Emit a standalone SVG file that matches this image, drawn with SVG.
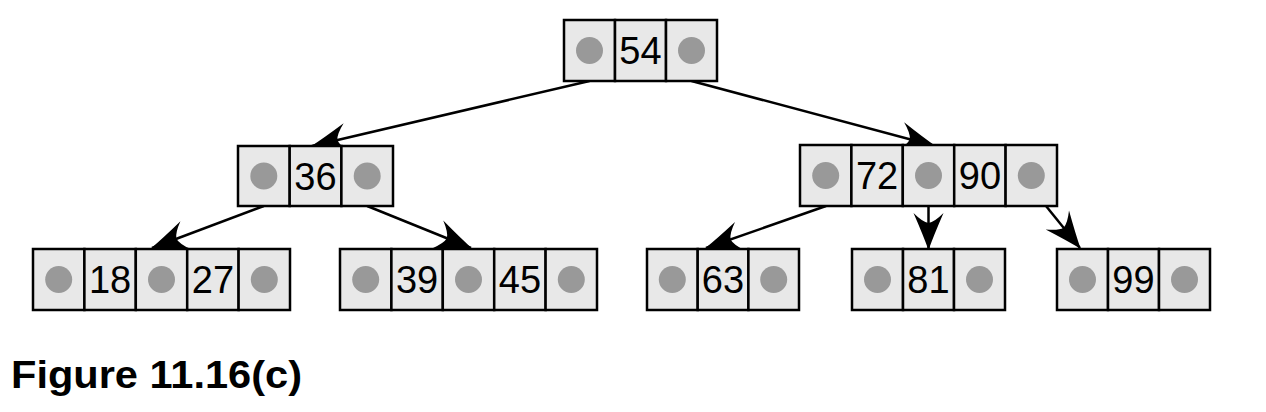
<svg xmlns="http://www.w3.org/2000/svg" width="1266" height="412" viewBox="0 0 1266 412">
<style>
.cell{fill:#e8e8e8;stroke:#000;stroke-width:2.5}
.ptr{fill:#999}
.key{font-family:"Liberation Sans",Arial,sans-serif;font-size:38px;fill:#000;text-anchor:middle}
.edge{stroke:#000;stroke-width:2.5;fill:none;marker-end:url(#ah)}
.cap{font-family:"Liberation Sans",Arial,sans-serif;font-weight:bold;font-size:39px;fill:#000}
</style>
<defs>
<marker id="ah" markerUnits="userSpaceOnUse" orient="auto" refX="0" refY="0" markerWidth="90" markerHeight="90" viewBox="-45 -45 90 90" overflow="visible">
<path d="M1,0 Q-13,-5 -36,-15 Q-27,-6 -26,0 Q-27,6 -36,15 Q-13,5 1,0 Z" fill="#000"/>
</marker>
</defs>
<g id="connectors">
<line class="edge" x1="589.5" y1="81" x2="312" y2="146"/>
<line class="edge" x1="691.5" y1="81" x2="935" y2="146"/>
<line class="edge" x1="263.8" y1="206" x2="152" y2="248"/>
<line class="edge" x1="367.2" y1="206" x2="471" y2="248"/>
<line class="edge" x1="826" y1="206" x2="706" y2="248"/>
<line class="edge" x1="928.5" y1="206" x2="928.5" y2="249"/>
<line class="edge" x1="1046" y1="206" x2="1080" y2="248"/>
</g>
<g id="node-54">
<rect class="cell" x="564" y="20" width="51" height="61"/>
<rect class="cell" x="615" y="20" width="51" height="61"/>
<rect class="cell" x="666" y="20" width="51" height="61"/>
<circle class="ptr" cx="589.5" cy="50.5" r="13.5"/>
<circle class="ptr" cx="691.5" cy="50.5" r="13.5"/>
<text class="key" x="640.5" y="64">54</text>
</g>
<g id="node-36">
<rect class="cell" x="238" y="146" width="51.7" height="60"/>
<rect class="cell" x="289.7" y="146" width="51.7" height="60"/>
<rect class="cell" x="341.4" y="146" width="51.6" height="60"/>
<circle class="ptr" cx="263.8" cy="176" r="13.5"/>
<circle class="ptr" cx="367.2" cy="176" r="13.5"/>
<text class="key" x="315.5" y="189.5">36</text>
</g>
<g id="node-72-90">
<rect class="cell" x="800" y="145" width="51.4" height="61"/>
<rect class="cell" x="851.4" y="145" width="51.4" height="61"/>
<rect class="cell" x="902.8" y="145" width="51.4" height="61"/>
<rect class="cell" x="954.2" y="145" width="51.4" height="61"/>
<rect class="cell" x="1005.6" y="145" width="51.4" height="61"/>
<circle class="ptr" cx="825.7" cy="175.5" r="13.5"/>
<circle class="ptr" cx="928.5" cy="175.5" r="13.5"/>
<circle class="ptr" cx="1031.3" cy="175.5" r="13.5"/>
<text class="key" x="877.1" y="189">72</text>
<text class="key" x="979.9" y="189">90</text>
</g>
<g id="node-18-27">
<rect class="cell" x="33" y="249" width="51.4" height="61"/>
<rect class="cell" x="84.4" y="249" width="51.4" height="61"/>
<rect class="cell" x="135.8" y="249" width="51.4" height="61"/>
<rect class="cell" x="187.2" y="249" width="51.4" height="61"/>
<rect class="cell" x="238.6" y="249" width="51.4" height="61"/>
<circle class="ptr" cx="58.7" cy="279.5" r="13.5"/>
<circle class="ptr" cx="161.5" cy="279.5" r="13.5"/>
<circle class="ptr" cx="264.3" cy="279.5" r="13.5"/>
<text class="key" x="110.1" y="293">18</text>
<text class="key" x="212.9" y="293">27</text>
</g>
<g id="node-39-45">
<rect class="cell" x="340" y="249" width="51.4" height="61"/>
<rect class="cell" x="391.4" y="249" width="51.4" height="61"/>
<rect class="cell" x="442.8" y="249" width="51.4" height="61"/>
<rect class="cell" x="494.2" y="249" width="51.4" height="61"/>
<rect class="cell" x="545.6" y="249" width="51.4" height="61"/>
<circle class="ptr" cx="365.7" cy="279.5" r="13.5"/>
<circle class="ptr" cx="468.5" cy="279.5" r="13.5"/>
<circle class="ptr" cx="571.3" cy="279.5" r="13.5"/>
<text class="key" x="417.1" y="293">39</text>
<text class="key" x="519.9" y="293">45</text>
</g>
<g id="node-63">
<rect class="cell" x="647" y="249" width="50.7" height="61"/>
<rect class="cell" x="697.7" y="249" width="50.7" height="61"/>
<rect class="cell" x="748.4" y="249" width="50.6" height="61"/>
<circle class="ptr" cx="672.3" cy="279.5" r="13.5"/>
<circle class="ptr" cx="773.7" cy="279.5" r="13.5"/>
<text class="key" x="723" y="293">63</text>
</g>
<g id="node-81">
<rect class="cell" x="852" y="249" width="51" height="61"/>
<rect class="cell" x="903" y="249" width="51" height="61"/>
<rect class="cell" x="954" y="249" width="51" height="61"/>
<circle class="ptr" cx="877.5" cy="279.5" r="13.5"/>
<circle class="ptr" cx="979.5" cy="279.5" r="13.5"/>
<text class="key" x="928.5" y="293">81</text>
</g>
<g id="node-99">
<rect class="cell" x="1057" y="249" width="51" height="61"/>
<rect class="cell" x="1108" y="249" width="51" height="61"/>
<rect class="cell" x="1159" y="249" width="51" height="61"/>
<circle class="ptr" cx="1082.5" cy="279.5" r="13.5"/>
<circle class="ptr" cx="1184.5" cy="279.5" r="13.5"/>
<text class="key" x="1133.5" y="293">99</text>
</g>
<text class="cap" x="11" y="388" textLength="291" lengthAdjust="spacingAndGlyphs">Figure 11.16(c)</text>
</svg>
